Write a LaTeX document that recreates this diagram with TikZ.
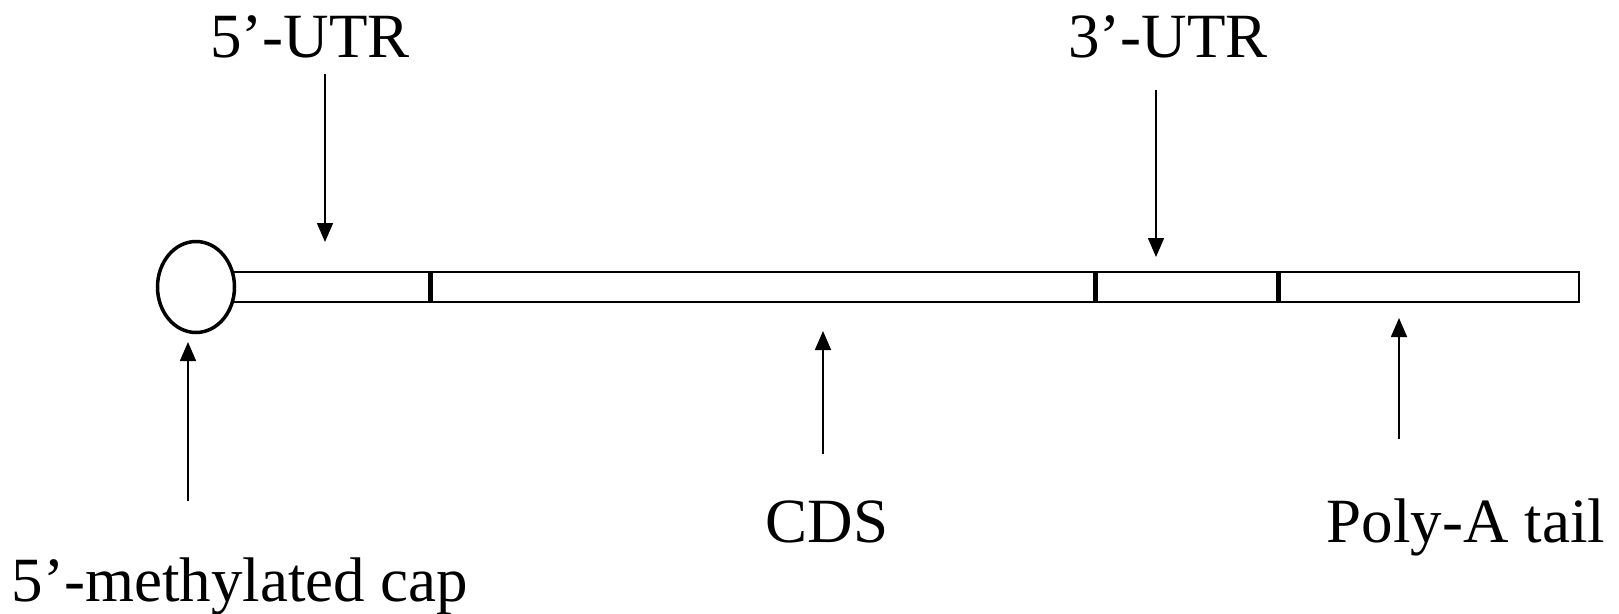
\documentclass[tikz,border=0pt]{standalone}
\usepackage{fontspec}
\setmainfont{Liberation Serif}
\usetikzlibrary{arrows.meta,shapes.geometric}
\begin{document}
\begin{tikzpicture}[x=1pt,y=-1pt,
  lbl/.style={anchor=base,inner sep=0pt,font=\fontsize{63}{70}\selectfont},
  ptr/.style={line width=1.6pt,-{Triangle[length=19pt,width=16pt]}},
  tick/.style={line width=5pt},
  barline/.style={line width=2.6pt}]
\useasboundingbox (0,0) rectangle (1619,613);
% bar
\draw[barline] (214,272) rectangle (1579,302);
\draw[tick] (430,272) -- (430,302);
\draw[tick] (1095,272) -- (1095,302);
\draw[tick] (1278,272) -- (1278,302);
% cap circle
\node[ellipse,draw,line width=3.5pt,fill=white,minimum width=77pt,minimum height=91pt,inner sep=0pt] (cap) at (196,287) {};
% labels
\node[lbl] (utr5) at (310,57) {5’-UTR};
\node[lbl] (utr3) at (1168,57) {3’-UTR};
\node[lbl] (cds) at (827,542) {CDS};
\node[lbl] (polya) at (1466,542) {Poly-A tail};
\node[lbl] (capl) at (240,601) {5’-methylated cap};
% arrow ends
\coordinate (a1s) at (325,74);  \coordinate (a1e) at (325,242);
\coordinate (a2s) at (1156,90); \coordinate (a2e) at (1156,257);
\coordinate (a3s) at (823,454); \coordinate (a3e) at (823,331);
\coordinate (a4s) at (1399,439); \coordinate (a4e) at (1399,318);
\coordinate (a5s) at (188,501); \coordinate (a5e) at (188,342);
\draw[ptr] (a1s) -- (a1e);
\draw[ptr] (a2s) -- (a2e);
\draw[ptr] (a3s) -- (a3e);
\draw[ptr] (a4s) -- (a4e);
\draw[ptr] (a5s) -- (a5e);
\end{tikzpicture}
\end{document}
